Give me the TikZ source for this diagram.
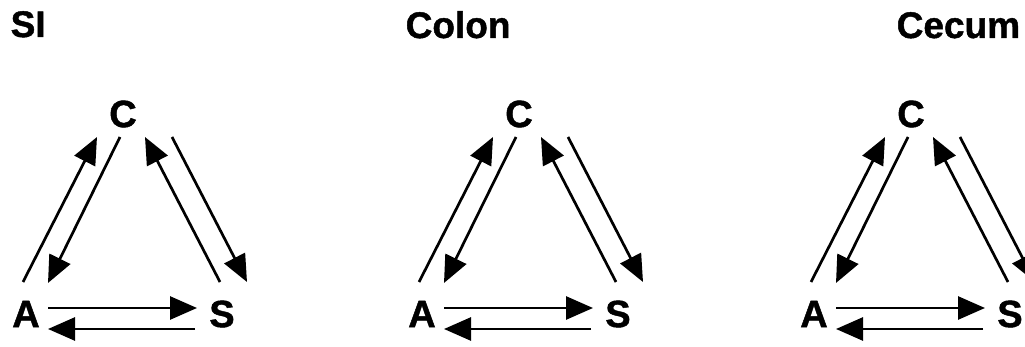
\documentclass[tikz,border=0pt]{standalone}
\usepackage{fontspec}
\setmainfont{Liberation Sans}
\newfontfamily\heavy{Liberation Sans}[BoldFeatures={FakeBold=1.2}]
\usetikzlibrary{arrows.meta}
\begin{document}
\begin{tikzpicture}[x=1pt,y=-1pt,
  title/.style={anchor=base west,inner sep=0pt,font=\fontsize{37}{40}\selectfont\heavy\bfseries},
  letter/.style={inner sep=0pt,font=\fontsize{38}{40}\selectfont\heavy\bfseries},
  arr/.style={line width=2.7pt,-{Triangle[length=27pt,width=23pt]}}]
\useasboundingbox (0,0) rectangle (1025,347);
\clip (0,0) rectangle (1025,347);
\node[title] (t1) at (10.5,37) {SI};
\node[title] (t2) at (405.5,38) {Colon};
\node[title] (t3) at (896.5,38) {Cecum};
\foreach \p/\dx in {p1/0,p2/396,p3/788}{
  \begin{scope}[xshift=\dx pt]
    \node[letter] (\p C) at (123,114) {C};
    \node[letter] (\p A) at (26,314) {A};
    \node[letter] (\p S) at (222,314) {S};
    \coordinate (\p ac1) at (23,282);
    \coordinate (\p ac2) at (97,137);
    \coordinate (\p ca1) at (120,137);
    \coordinate (\p ca2) at (48,283);
    \coordinate (\p sc1) at (220,282);
    \coordinate (\p sc2) at (145,137);
    \coordinate (\p cs1) at (172,137);
    \coordinate (\p cs2) at (247,282);
    \coordinate (\p as1) at (48,308);
    \coordinate (\p as2) at (197,308);
    \coordinate (\p sa1) at (195,329);
    \coordinate (\p sa2) at (48,329);
    \draw[arr] (\p ac1) -- (\p ac2);
    \draw[arr] (\p ca1) -- (\p ca2);
    \draw[arr] (\p sc1) -- (\p sc2);
    \draw[arr] (\p cs1) -- (\p cs2);
    \draw[arr] (\p as1) -- (\p as2);
    \draw[arr] (\p sa1) -- (\p sa2);
  \end{scope}
}
\end{tikzpicture}
\end{document}
